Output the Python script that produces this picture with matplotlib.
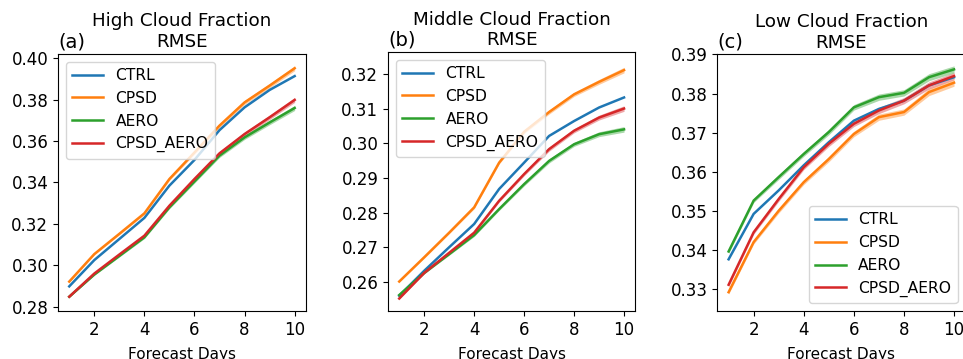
import matplotlib
matplotlib.use("Agg")
import matplotlib.pyplot as plt
import numpy as np

# ---------------- Data ----------------
days = [1, 2, 3, 4, 5, 6, 7, 8, 9, 10]
runs = ["CTRL", "CPSD", "AERO", "CPSD_AERO"]

high_ctrl = [0.2898, 0.3025, 0.3127, 0.3229, 0.3385, 0.3509, 0.3653, 0.3763, 0.3847, 0.3914]
high_cpsd = [0.2921, 0.3054, 0.3152, 0.3251, 0.3417, 0.3545, 0.3675, 0.3787, 0.3868, 0.3952]
high_aero = [0.2848, 0.2955, 0.3045, 0.3135, 0.3280, 0.3405, 0.3530, 0.3618, 0.3690, 0.3760]
high_cpsd_aero = [0.2848, 0.2960, 0.3052, 0.3143, 0.3288, 0.3417, 0.3541, 0.3634, 0.3715, 0.3799]
high_spread = [0.0003, 0.0004, 0.0005, 0.0006, 0.0007, 0.0008, 0.0009, 0.0010, 0.0011, 0.0012]

mid_ctrl = [0.2560, 0.2632, 0.2700, 0.2767, 0.2868, 0.2944, 0.3021, 0.3064, 0.3103, 0.3132]
mid_cpsd = [0.2601, 0.2671, 0.2742, 0.2815, 0.2944, 0.3033, 0.3090, 0.3141, 0.3177, 0.3211]
mid_aero = [0.2562, 0.2626, 0.2680, 0.2735, 0.2810, 0.2882, 0.2949, 0.2997, 0.3026, 0.3040]
mid_cpsd_aero = [0.2552, 0.2626, 0.2684, 0.2742, 0.2834, 0.2911, 0.2983, 0.3036, 0.3074, 0.3100]
mid_spread = [0.0002, 0.0003, 0.0003, 0.0004, 0.0004, 0.0005, 0.0006, 0.0006, 0.0007, 0.0008]

low_ctrl = [0.3377, 0.3493, 0.3553, 0.3617, 0.3676, 0.3731, 0.3761, 0.3782, 0.3821, 0.3842]
low_cpsd = [0.3293, 0.3421, 0.3501, 0.3574, 0.3633, 0.3697, 0.3740, 0.3753, 0.3804, 0.3828]
low_aero = [0.3397, 0.3527, 0.3587, 0.3646, 0.3702, 0.3765, 0.3791, 0.3802, 0.3842, 0.3862]
low_cpsd_aero = [0.3312, 0.3446, 0.3531, 0.3612, 0.3672, 0.3723, 0.3757, 0.3782, 0.3821, 0.3845]
low_spread = [0.0005, 0.0005, 0.0006, 0.0006, 0.0007, 0.0007, 0.0008, 0.0008, 0.0009, 0.0009]

titles = ["High Cloud Fraction\nRMSE", "Middle Cloud Fraction\nRMSE", "Low Cloud Fraction\nRMSE"]
panel_tags = ["(a)", "(b)", "(c)"]
high_yticks = [0.28, 0.30, 0.32, 0.34, 0.36, 0.38, 0.40]
mid_yticks = [0.26, 0.27, 0.28, 0.29, 0.30, 0.31, 0.32]
low_yticks = [0.33, 0.34, 0.35, 0.36, 0.37, 0.38, 0.39]

# ---------------- Figure ----------------
fig = plt.figure(figsize=(9.63, 3.59), dpi=100)
positions = [
    [0.0602, 0.1337, 0.2575, 0.7160],
    [0.4029, 0.1337, 0.2568, 0.7213],
    [0.7449, 0.1337, 0.2575, 0.7145],
]
panels = [
    ([high_ctrl, high_cpsd, high_aero, high_cpsd_aero], high_spread, high_yticks, (0.2779, 0.4021), "upper left"),
    ([mid_ctrl, mid_cpsd, mid_aero, mid_cpsd_aero], mid_spread, mid_yticks, (0.2516, 0.3263), "upper left"),
    ([low_ctrl, low_cpsd, low_aero, low_cpsd_aero], low_spread, low_yticks, (0.3245, 0.3900), "lower right"),
]
colors = ["C0", "C1", "C2", "C3"]

for i, (series, spread, yticks, ylim, loc) in enumerate(panels):
    ax = fig.add_axes(positions[i])
    for name, vals, c in zip(runs, series, colors):
        vals = np.array(vals)
        ax.plot(days, vals, color=c, lw=1.8, label=name)
        if name != "CTRL":
            sp = np.array(spread)
            ax.fill_between(days, vals - sp, vals + sp, color=c, alpha=0.4, lw=0)
    ax.set_xlim(0.55, 10.45)
    ax.set_ylim(*ylim)
    ax.set_xticks([2, 4, 6, 8, 10])
    ax.set_yticks(yticks)
    ax.tick_params(labelsize=12)
    ax.set_xlabel("Forecast Days", fontsize=11, labelpad=6)
    # title and panel tag share the same baseline
    ax.set_title(titles[i], fontsize=13.2, pad=4.8)
    ax.set_title(panel_tags[i], fontsize=14, loc="left", pad=4.8)
    ax.legend(loc=loc, fontsize=11.2)

fig.savefig("out.png", dpi=100)
